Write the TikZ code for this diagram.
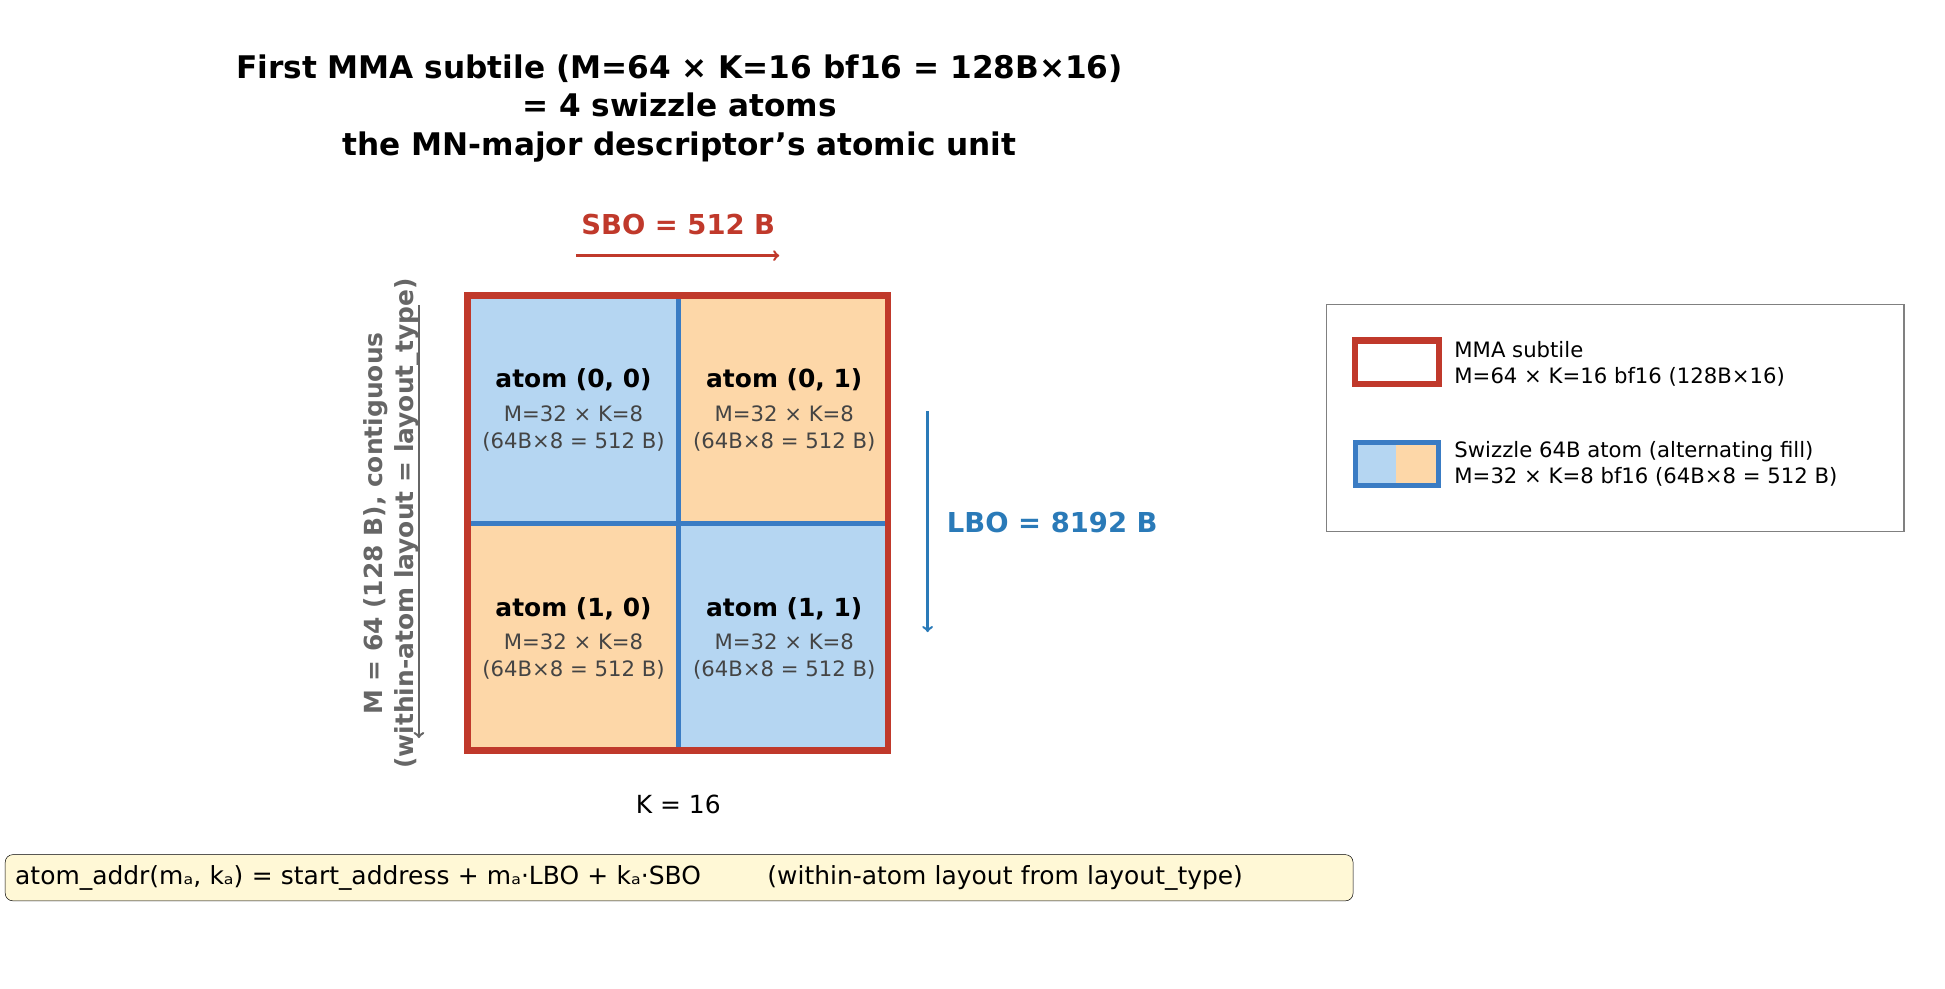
\documentclass[tikz,border=0pt]{standalone}
\usepackage{fontspec}
\setmainfont{DejaVu Sans}
\usetikzlibrary{positioning}
\definecolor{subred}{HTML}{C0392B}
\definecolor{atomblue}{HTML}{3A7CC4}
\definecolor{lightblue}{HTML}{B5D6F2}
\definecolor{lightorange}{HTML}{FDD7A8}
\definecolor{lbocol}{HTML}{2A7AB8}
\definecolor{graytxt}{HTML}{666666}
\definecolor{subtxt}{HTML}{444444}
\definecolor{notefill}{HTML}{FFF8D6}
\newcommand{\fsz}[2]{\fontsize{#1}{#2}\selectfont}
\tikzset{
	atomname/.style={font=\fsz{20}{24}\bfseries},
	atominfo/.style={font=\fsz{17}{22}, text=subtxt, align=center},
	legtext/.style={font=\fsz{17}{21}, anchor=west, align=left},
}
\begin{document}
\begin{tikzpicture}[x=1pt,y=-1pt]
	\useasboundingbox (0,0) rectangle (1560,793);

	% TITLE
	\node[font=\fsz{25}{31}\bfseries, align=center] (title) at (545,87)
		{First MMA subtile (M=64 × K=16 bf16 = 128B×16)\\= 4 swizzle atoms\\the MN-major descriptor's atomic unit};

	% ATOMS
	\fill[lightblue] (375,237) rectangle (544,420);
	\fill[lightorange] (544,237) rectangle (712,420);
	\fill[lightorange] (375,420) rectangle (544,602);
	\fill[lightblue] (544,420) rectangle (712,602);
	\draw[atomblue, line width=4pt] (544,237) -- (544,602);
	\draw[atomblue, line width=4pt] (375,420) -- (712,420);
	\draw[subred, line width=5pt] (375,237) rectangle (712,602);

	\foreach \r/\y in {0/0,1/183} {
		\foreach \c/\x in {0/0,1/169} {
			\node[atomname] (a\r\c) at (460+\x,305+\y) {atom (\r, \c)};
			\node[atominfo, below=4pt of a\r\c] (i\r\c) {M=32 × K=8\\(64B×8 = 512 B)};
		}
	}

	% SBO
	\node[font=\fsz{22}{26}\bfseries, text=subred] (sbo) at (544,180) {SBO = 512 B};
	\coordinate (sboa) at (462,205);
	\coordinate (sbob) at (625,205);
	\draw[->, subred, line width=2pt] (sboa) -- (sbob);

	% LBO
	\coordinate (lboa) at (744,330);
	\coordinate (lbob) at (744,507);
	\draw[->, lbocol, line width=2pt] (lboa) -- (lbob);
	\node[font=\fsz{22}{26}\bfseries, text=lbocol, anchor=west] (lbo) at (756,419) {LBO = 8192 B};

	% M axis
	\node[font=\fsz{20}{25}\bfseries, text=graytxt, rotate=90, align=center] (maxis) at (314,420)
		{M = 64 (128 B), contiguous\\(within-atom layout = layout\_type)};
	\coordinate (ma) at (336,245);
	\coordinate (mb) at (336,592);
	\draw[->, graytxt, line width=2pt] (ma) -- (mb);

	\node[font=\fsz{20}{24}] (kaxis) at (544,645) {K = 16};

	% FORMULA
	\node[draw, rounded corners=6pt, fill=notefill, font=\fsz{20}{24}, anchor=west,
		minimum height=37pt, inner xsep=8pt, text width=1065pt] (note) at (4,704)
		{atom\_addr(mₐ, kₐ) = start\_address + mₐ·LBO + kₐ·SBO \hspace{40pt} (within-atom layout from layout\_type)};

	% LEGEND
	\draw[gray, line width=1pt] (1064,244) rectangle (1527,426);
	\draw[subred, line width=5pt, fill=white] (1087,273) rectangle (1154,308);
	\node[legtext] (leg1) at (1163,292) {MMA subtile\\M=64 × K=16 bf16 (128B×16)};
	\fill[lightblue] (1087,355) rectangle (1120,389);
	\fill[lightorange] (1120,355) rectangle (1154,389);
	\draw[atomblue, line width=4pt] (1087,355) rectangle (1154,389);
	\node[legtext] (leg2) at (1163,372) {Swizzle 64B atom (alternating fill)\\M=32 × K=8 bf16 (64B×8 = 512 B)};
\end{tikzpicture}
\end{document}
